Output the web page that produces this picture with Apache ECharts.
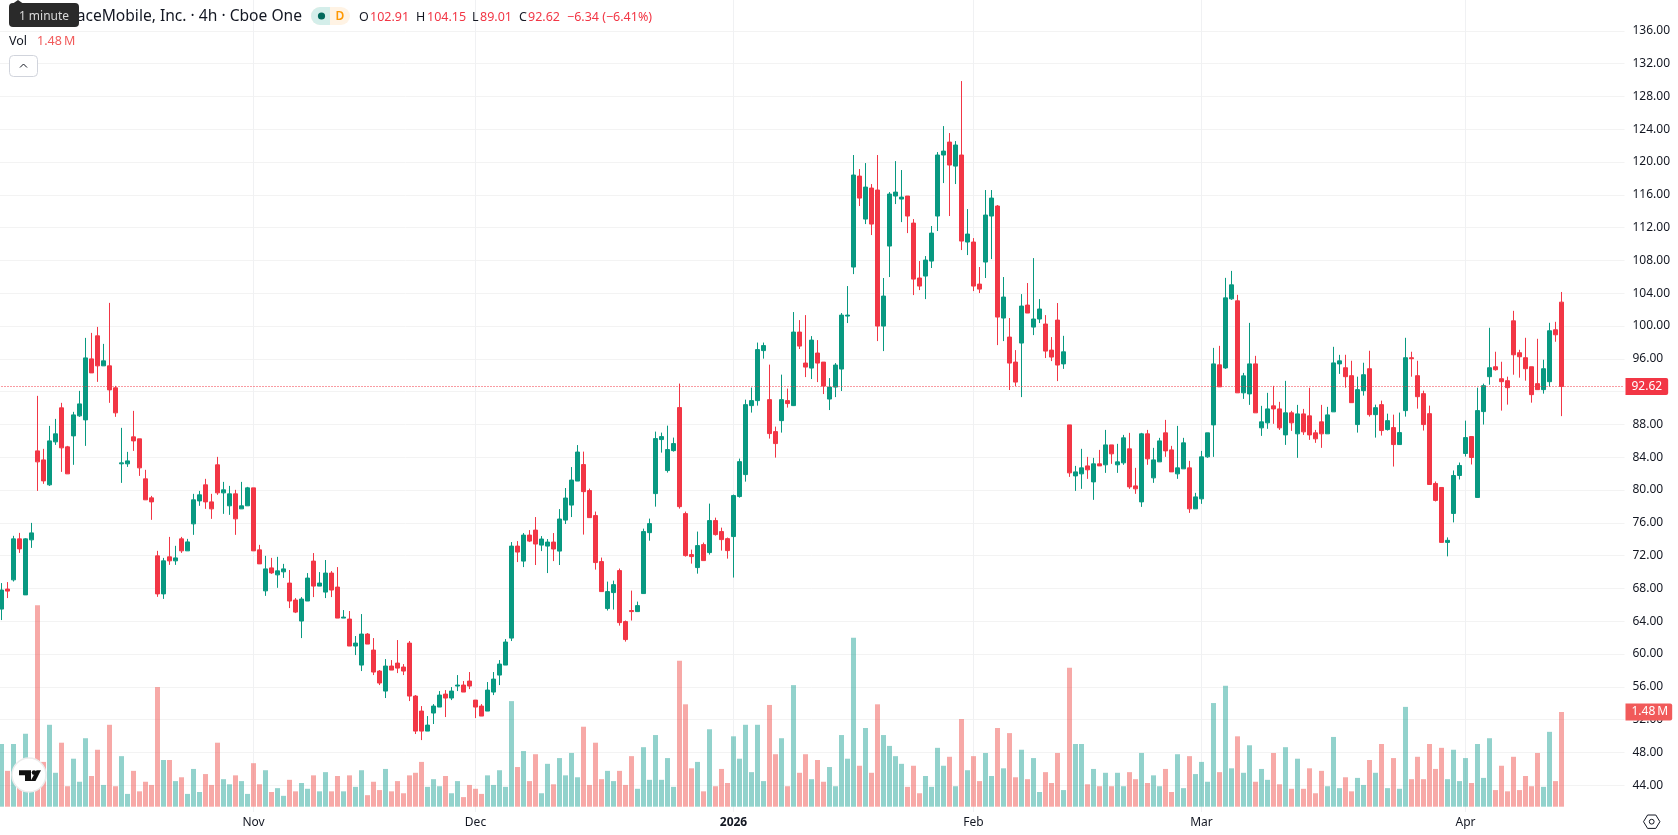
<!DOCTYPE html>
<html>
<head>
<meta charset="utf-8">
<style>html,body{margin:0;padding:0;background:#fff}#chart{width:1678px;height:835px}</style>
<script src="https://cdn.jsdelivr.net/npm/echarts@6/dist/echarts.min.js"></script>
</head>
<body>
<div id="chart"></div>
<script>
// 4h candles, oldest first
const open = [
65.48,67.92,69.04,74.04,67.21,73.92,84.77,83.67,80.63,85.87,90.02,85.26,86.6,89.04,88.55,95.99,98.8,95.14,95.14,92.46,
83.19,83.19,86.48,86.24,81.36,79.04,71.97,67.33,71.85,71.36,74.04,72.58,75.87,78.67,80.63,78.55,83.07,79.65,78.07,79.53,
77.7,78.07,80.26,72.7,67.7,70.5,69.65,70.02,68.65,66.58,64.02,66.46,71.33,68.28,67.55,69.87,68.16,64.38,64.26,60.97,
58.65,62.43,60.48,57.92,55.48,58.53,58.89,58.41,61.33,54.87,53.04,50.6,52.8,53.53,55.11,54.63,56.09,56.21,56.7,54.38,
53.65,53.04,55.36,57.43,58.65,61.94,73.16,71.33,74.5,75.11,73.28,73.16,73.65,72.55,76.33,78.16,81.09,83.1,79.93,76.88,
71.27,65.54,67.49,70.17,63.95,65.3,65.17,67.37,74.8,79.56,86.15,82.37,84.8,90.05,77.12,72.12,70.54,73.34,72.37,76.27,
74.93,74.07,74.32,79.2,81.88,90.29,90.9,97,91.02,87.12,88.46,90.9,90.29,99.26,95.48,94.87,96.7,95.6,91.09,92.55,
94.75,101.21,107.19,118.28,113.04,116.82,116.58,99.99,109.75,115.85,115.48,115.85,112.55,105.85,106.09,107.92,113.41,120.85,122.43,119.5,
120.85,110.24,110.24,105.11,107.8,113.41,114.63,100.97,98.65,95.6,97.92,102.55,99.87,100.85,100.24,97.06,100.72,95.38,87.94,81.72,
81.97,82.94,80.99,83.19,83.07,85.5,83.07,83.31,85.02,80.5,78.55,86.85,81.48,83.43,86.97,84.89,81.97,82.58,82.7,77.7,
78.92,84.04,87.94,95.26,94.89,103.31,103.07,91.85,91.72,95.38,87.58,88.19,90.26,89.89,86.72,89.41,86.85,89.28,89.04,86.97,
88.31,86.85,89.53,95.38,94.91,93.94,87.98,92.11,94.79,89.19,90.41,87.37,87.61,85.54,89.68,96.13,93.94,91.75,89.31,80.8,
80.31,73.61,77.14,81.77,84.45,86.52,79.09,89.56,93.82,95.03,93.57,93.33,100.63,96.74,96.13,95.03,92.97,92.24,93.21,99.54,
102.91];
const high = [
68.65,68.77,74.41,74.77,74.12,75.99,91.48,85.02,87.82,88.67,90.63,85.38,89.53,92.09,98.55,99.16,99.89,97.82,102.82,92.7,
87.58,84.65,89.65,86.24,82.46,79.28,72.58,71.72,74.28,73.19,74.28,74.04,79.53,79.89,81.36,79.53,84.04,80.99,80.5,80.02,
80.99,80.38,80.26,73.31,71.97,71.72,71.85,70.99,70.24,66.82,66.94,69.87,72.31,69.99,71.46,70.11,70.6,65.36,65.24,62.19,
64.87,62.55,61.94,58.04,59.38,59.26,61.7,58.77,61.58,54.99,53.65,52.43,53.89,55.48,55.6,55.97,57.43,56.7,57.8,54.38,
53.89,56.58,57.8,59.26,61.82,73.65,73.77,74.75,75.11,76.7,74.38,74.02,74.75,77.67,80.24,82.8,85.48,84.68,80.17,77.37,
71.76,68.83,68.95,70.42,64.08,67.73,66.39,75.29,76.51,87.12,87,87.85,86.39,92.98,77.37,72.73,74.93,73.59,78.34,76.63,
75.41,74.2,79.44,83.83,91.02,92.49,97.98,97.98,95.29,87.73,94.07,92.37,101.7,100.72,101.33,98.77,98.28,95.6,93.65,95.48,
101.58,104.87,120.85,119.14,119.87,117.31,120.85,105.85,116.33,120.11,119.02,115.85,113.04,107.92,108.53,112.19,121.21,124.38,123.53,122.55,
129.87,114.26,110.72,107.19,116.58,116.58,114.75,105.97,100.97,97.06,103.89,105.24,108.28,103.28,101.33,98.65,102.8,98.8,87.94,82.94,
85.02,84.04,83.92,84.89,87.33,85.5,85.63,86.72,86.97,82.7,86.97,87.33,85.14,86.36,88.55,85.38,87.82,86.36,83.55,79.65,
84.77,86.97,97.33,97.58,105.87,106.72,103.8,94.28,100.38,96.36,90.26,91.85,92.7,90.75,93.31,89.65,90.38,89.89,92.46,87.33,
90.38,90.14,97.46,96.48,96.49,95.76,93.82,95.52,96.98,90.41,90.9,89.31,89.19,89.44,98.56,96.86,95.76,92.11,90.29,81.04,
80.31,74.22,82.38,83.35,88.46,86.52,92.48,92.97,99.78,96.86,95.64,93.82,101.85,97.1,98.56,95.03,98.44,95.89,100.39,100.51,
104.15];
const low = [
64.14,66.82,68.84,72.33,67.21,72.94,79.89,80.75,80.5,85.5,82.21,81.97,83.07,88.92,85.38,94.28,93.19,95.14,90.63,88.92,
80.87,82.82,84.77,81.72,78.8,76.36,66.97,66.72,70.87,70.87,72.33,72.58,74.53,78.07,77.7,76.48,79.41,77.09,76.97,74.53,
77.7,78.07,72.58,70.99,67.09,69.77,68.07,69.28,65.6,64.99,61.94,66.46,66.94,68.28,66.82,66.94,64.38,64.38,60.97,59.87,
57.92,61.21,57.43,56.21,54.63,58.04,57.67,57.43,54.26,50.24,49.5,50.6,51.46,53.53,52.31,54.38,55.48,55.36,55.72,52.19,
52.43,53.04,54.99,56.21,58.65,61.58,71.21,70.6,73.65,70.85,72.55,69.87,71.33,70.85,75.85,76.7,81.09,74.56,76.63,70.29,
67.61,65.3,65.42,63.46,61.51,64.08,65.17,67.37,73.82,77.97,84.56,82.12,84.68,77.73,71.88,71.02,69.8,71.39,72.12,74.44,
72.61,71.63,69.32,79.07,81.02,89.44,90.29,96.02,86.27,83.95,87,90.05,90.24,97.19,93.77,93.53,93.16,91.7,89.75,91.33,
92.07,100.36,106.33,114.63,112.43,111.09,98.16,96.94,105.97,114.87,112.67,111.33,103.77,104.38,103.28,107.07,111.58,117.43,113.41,117.31,
109.26,108.65,104.26,104.02,105.85,108.16,97.67,98.16,92.19,92.67,91.33,101.58,98.89,100.36,96.09,95.72,93.28,94.77,81.6,79.89,
80.14,81.36,78.8,82.94,82.09,83.19,82.09,83.07,80.14,79.53,77.94,83.07,80.87,83.43,84.04,82.21,81.36,82.58,77.21,77.7,
78.31,83.92,84.04,92.58,94.77,103.19,91.85,91.11,90.38,89.41,86.6,87.46,88.07,87.33,85.5,87.21,83.92,86.72,86.11,85.75,
85.14,86.85,89.53,94.16,92.48,90.65,87,91.51,88.95,86.39,86.64,87.25,82.86,85.54,88.95,93.82,89.92,87.25,80.67,78.6,
73.61,71.91,76.05,81.28,84.08,83.11,79.09,87.98,92.84,94.55,89.68,90.41,94.06,93.7,93.33,90.65,92.24,91.75,92.6,98.08,
89.01];
const close = [
67.8,67.67,74.04,72.82,74.04,74.77,83.43,81.11,85.99,86.85,85.14,81.97,89.16,90.5,96.11,94.28,95.14,95.75,92.21,89.41,
83.31,83.55,85.99,82.7,78.8,78.55,67.33,71.36,71.36,71.72,72.58,73.67,78.8,79.41,78.55,77.7,79.65,80.02,79.53,76.48,
78.07,80.26,72.58,70.99,70.38,69.89,70.14,70.38,66.46,65.11,66.7,69.26,68.28,68.65,69.87,67.8,64.38,64.5,60.97,61.33,
62.43,61.21,57.8,56.46,58.53,58.04,58.28,57.92,54.87,50.6,50.6,51.33,53.65,54.99,54.63,55.48,56.21,55.36,56.09,53.53,
52.43,55.6,56.94,58.77,61.46,73.16,72.43,74.5,73.77,73.41,74.02,73.65,72.8,76.46,79.02,81.21,84.63,79.8,76.63,71.15,
67.61,67.61,68.46,63.83,61.76,65.17,65.9,74.93,75.9,86.27,86.51,84.93,85.66,77.97,72,71.88,73.22,71.39,76.27,74.56,
73.95,72.61,79.32,83.46,90.41,90.9,97.12,97.61,86.88,85.66,91.02,90.54,99.26,97.55,94.99,98.28,95.48,92.67,92.55,95.24,
101.33,101.33,118.41,115.6,116.94,112.43,99.99,103.65,116.09,116.33,115.72,113.41,105.72,104.87,108.04,111.33,120.85,121.33,119.63,122.07,
110.36,111.21,104.87,104.5,113.53,115.6,101.09,103.53,95.48,93.16,102.43,101.58,100.85,102.07,96.94,96.21,95.24,96.85,82.09,82.21,
82.7,82.46,83.19,82.94,85.5,84.41,83.43,86.36,80.38,80.14,86.85,83.8,83.67,85.99,84.77,82.21,82.7,85.75,77.7,79.16,
84.04,86.97,95.38,92.58,103.43,105.02,91.85,93.92,95.38,89.41,88.31,89.89,89.89,87.58,89.41,88.19,89.28,87.09,86.72,86.24,
86.85,89.16,95.5,95.75,93.82,90.65,92.24,94.06,89.19,90.04,87.25,88.46,85.54,87,96.13,96.01,91.38,87.98,80.67,78.73,
73.61,73.86,81.77,82.99,86.39,83.96,89.68,92.72,94.91,94.67,93.21,92.48,96.49,96.25,94.79,91.63,92.24,94.79,99.42,98.93,
92.62];
// Share volume of each candle, in millions
const volume = [
.98,.56,.98,.52,1.14,.57,3.15,.70,1.28,.53,1.0,.32,.75,.39,1.07,.48,.89,.34,1.28,.32,
.79,.20,.56,.24,.39,.34,1.87,.73,.73,.40,.46,.20,.59,.23,.51,.34,1.0,.43,.35,.49,
.40,.20,.68,.35,.57,.23,.29,.17,.42,.24,.37,.28,.49,.24,.54,.24,.48,.24,.49,.31,
.57,.18,.39,.26,.59,.24,.40,.21,.49,.53,.70,.31,.43,.32,.48,.21,.40,.15,.34,.28,
.20,.49,.34,.57,.31,1.65,.62,.87,.40,.82,.21,.67,.35,.76,.49,.84,.46,1.25,.34,1.0,
.43,.56,.40,.56,.34,.79,.28,.93,.42,1.12,.42,.76,.31,2.28,1.60,.60,.70,.24,1.21,.32,
.59,.37,1.10,.75,1.28,.54,1.28,.40,1.59,.82,1.07,.32,1.90,.53,.82,.43,.73,.39,.62,.32,
1.12,.75,2.64,.64,1.23,.53,1.60,1.12,.95,.79,.67,.31,.64,.21,.48,.31,.92,.64,.78,.32,
1.37,.57,.79,.40,.84,.48,1.23,.60,1.15,.46,.89,.43,.76,.23,.54,.37,.84,.26,2.17,.98,
.98,.35,.59,.32,.53,.32,.53,.32,.54,.43,.84,.37,.49,.32,.59,.23,.82,.29,.79,.51,
.70,.39,1.62,.54,1.89,.60,1.10,.53,.96,.39,.59,.42,.84,.35,.93,.28,.75,.28,.60,.21,
.56,.32,1.09,.29,.46,.24,.45,.34,.73,.53,.98,.29,.76,.28,1.56,.43,.78,.43,.98,.59,
.92,.43,.89,.40,.76,.37,.98,.45,1.07,.26,.64,.24,.78,.26,.48,.32,.84,.31,1.17,.40,
1.48];
// Where each month label and its vertical rule sit along the candle sequence
const monthLabels = {42:'Nov',79:'Dec',122:'2026',162:'Feb',200:'Mar',244:'Apr'};
const priceTicks = {min:40, max:140, step:4};
const emptySlots = 10;
const legendTitle = 'AST SpaceMobile, Inc. · 4h · Cboe One';
const changeText = '−6.34 (−6.41%)';
const lastVolumeText = '1.48\u202FM';

const UP='#089981', DOWN='#F23645', UP_VOL='rgba(38,166,154,0.5)', DOWN_VOL='rgba(239,83,80,0.5)';
const GRID='#f3f3f3', TEXT='#131722';
const FONT='"Noto Sans", sans-serif', AXISFONT='"Noto Sans", sans-serif';

const categories = Array.from({length: open.length + emptySlots}, (_, i) => monthLabels[i] || String(i));
const isMonth = i => monthLabels[i] !== undefined;
const candles = open.map((o, i) => [o, close[i], low[i], high[i]]);
const volumeBars = volume.map((v, i) => ({
  value: v,
  itemStyle: {color: close[i] >= open[i] ? UP_VOL : DOWN_VOL}
}));
const last = open.length - 1;

const plotLeft = -1.5, plotWidth = 1626;

const headText = (x, text, fill, extra) => ({
  type:'text', x, y:17, z:60,
  style:Object.assign({text, fill, fontFamily:FONT, fontSize:12.5, textVerticalAlign:'middle'}, extra||{})
});

const chart = echarts.init(document.getElementById('chart'), null, {renderer:'canvas'});
chart.setOption({
  animation:false,
  backgroundColor:'#ffffff',
  grid:[
    {left:plotLeft, width:plotWidth, top:-2, height:820, outerBoundsMode:'none'},
    {left:plotLeft, width:plotWidth, top:0, height:812, outerBoundsMode:'none'}
  ],
  xAxis:[
    {type:'category', gridIndex:0, data:categories, show:false},
    {type:'category', gridIndex:1, data:categories,
      axisLine:{show:false}, axisTick:{show:false},
      axisLabel:{
        interval:i=>isMonth(i), margin:5, fontFamily:AXISFONT, fontSize:12, color:TEXT,
        hideOverlap:false,
        formatter:v=>v==='2026' ? '{y|2026}' : v,
        rich:{y:{fontWeight:'bold', fontFamily:AXISFONT, fontSize:12, color:TEXT}}
      },
      splitLine:{show:true, interval:i=>isMonth(i), alignWithLabel:true, lineStyle:{color:'#f0f1f3', width:1}}
    }
  ],
  yAxis:[
    {type:'value', gridIndex:0, position:'right', min:priceTicks.min, max:priceTicks.max, interval:priceTicks.step,
      axisLine:{show:false}, axisTick:{show:false},
      axisLabel:{margin:8, padding:[2,0,0,0], fontFamily:AXISFONT, fontSize:12, color:TEXT, showMinLabel:false, showMaxLabel:false,
        formatter:v=>v.toFixed(2)},
      splitLine:{show:true, showMinLine:false, showMaxLine:false, lineStyle:{color:GRID, width:1}}
    },
    {type:'value', gridIndex:1, show:false, min:-0.0828, max:12.607, splitLine:{show:false}}
  ],
  series:[
    {type:'bar', name:'Vol', xAxisIndex:1, yAxisIndex:1, data:volumeBars, barWidth:5, z:2, silent:true,
      markLine:{silent:true, symbol:'none', animation:false,
        lineStyle:{color:'transparent', width:0},
        label:{show:true, position:'end', distance:1, formatter:lastVolumeText, color:'#fff', backgroundColor:'#F15A5A',
          padding:[3,4,3,6], fontFamily:AXISFONT, fontSize:12, lineHeight:11, borderRadius:[0,2,2,0]},
        data:[{yAxis:volume[last]}]}
    },
    {type:'candlestick', name:'Price', xAxisIndex:0, yAxisIndex:0, data:candles, barWidth:4, z:3, silent:true,
      itemStyle:{color:UP, color0:DOWN, borderColor:UP, borderColor0:DOWN, borderWidth:1},
      markLine:{silent:true, symbol:'none', animation:false,
        lineStyle:{type:[1,2], color:DOWN, width:1},
        label:{position:'end', distance:1, formatter:p=>p.value.toFixed(2), color:'#fff', backgroundColor:DOWN,
          padding:[3,6,3,6], fontFamily:AXISFONT, fontSize:12, lineHeight:11, borderRadius:[0,2,2,0]},
        data:[{yAxis:close[last]}]}
    }
  ],
  graphic:{elements:[
    {type:'text', x:302, y:17, z:50, style:{text:legendTitle, fill:TEXT, fontFamily:FONT, fontSize:15.6, textAlign:'right', textVerticalAlign:'middle'}},
    // tooltip bubble on top of the ticker name
    {type:'polygon', z:55, shape:{points:[[13,3.5],[18,0],[23,3.5]]}, style:{fill:'#2a2a2a'}},
    {type:'rect', z:55, shape:{x:9,y:3,width:70,height:24,r:4}, style:{fill:'#2a2a2a'}},
    {type:'text', x:44, y:16.5, z:56, style:{text:'1 minute', fill:'#d8d8d8', fontFamily:FONT, fontSize:12, textAlign:'center', textVerticalAlign:'middle'}},
    // market status pill
    {type:'rect', z:50, shape:{x:311,y:7,width:39,height:18,r:9}, style:{fill:'#fff3e4'}},
    {type:'rect', z:51, shape:{x:311,y:7,width:19,height:18,r:[9,0,0,9]}, style:{fill:'#d4eeea'}},
    {type:'circle', z:52, shape:{cx:321.5,cy:16,r:3.6}, style:{fill:'#00695c'}},
    {type:'text', x:340, y:16.5, z:52, style:{text:'D', fill:'#ff9800', fontFamily:FONT, fontSize:12, fontWeight:600, textAlign:'center', textVerticalAlign:'middle'}},
    headText(359,'O',TEXT), headText(370,open[last].toFixed(2),DOWN),
    headText(416,'H',TEXT), headText(427,high[last].toFixed(2),DOWN),
    headText(472,'L',TEXT), headText(480,low[last].toFixed(2),DOWN),
    headText(519,'C',TEXT), headText(528,close[last].toFixed(2),DOWN),
    headText(567,changeText,DOWN),
    {type:'text', x:9, y:41.5, z:50, style:{text:'Vol', fill:TEXT, fontFamily:FONT, fontSize:12.5, textVerticalAlign:'middle'}},
    {type:'text', x:37, y:41.5, z:50, style:{text:lastVolumeText, fill:'#F15A5A', fontFamily:FONT, fontSize:12.5, textVerticalAlign:'middle'}},
    // collapse button
    {type:'rect', z:50, shape:{x:9.5,y:55.5,width:28,height:21,r:4}, style:{fill:'#fff', stroke:'#d1d4dc', lineWidth:1}},
    {type:'polyline', z:51, shape:{points:[[20,67.5],[23.5,64],[27,67.5]]}, style:{fill:'none', stroke:TEXT, lineWidth:1}},
    // brand badge
    {type:'circle', z:50, shape:{cx:29,cy:775,r:17}, style:{fill:'#fff', stroke:'#ececec', lineWidth:1.5}},
    {type:'polygon', z:51, shape:{points:[[19,770.3],[31,770.3],[31,781],[25,781],[25,775.3],[19,775.3]]}, style:{fill:'#111'}},
    {type:'circle', z:51, shape:{cx:34,cy:772.6,r:2.3}, style:{fill:'#111'}},
    {type:'polygon', z:51, shape:{points:[[36.5,770.3],[41,770.3],[35.5,781],[30.5,781]]}, style:{fill:'#111'}},
    // settings glyph under the price scale
    {type:'polygon', z:50, shape:{points:[[1643.5,821.7],[1647.6,815],[1655.8,815],[1659.9,821.7],[1655.8,828.4],[1647.6,828.4]]}, style:{fill:'none', stroke:TEXT, lineWidth:1}},
    {type:'circle', z:50, shape:{cx:1651.7,cy:821.7,r:2.4}, style:{fill:'none', stroke:TEXT, lineWidth:1}}
  ]}
});
</script>
</body>
</html>
